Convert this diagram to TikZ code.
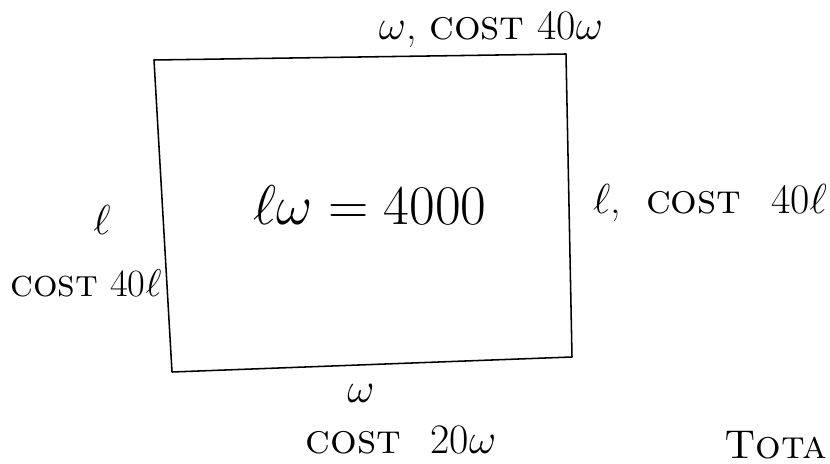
\documentclass[tikz,border=0pt]{standalone}
\usepackage{fontspec}
\tikzset{
    lbl/.style={inner sep=0pt, font=\Huge, scale=1.2},
    area/.style={inner sep=0pt, font=\Huge, scale=1.6},
    pen/.style={line width=1.1pt, line join=round}
}
\begin{document}
\begin{tikzpicture}[x=0.025cm, y=-0.025cm]
    \useasboundingbox (0,0) rectangle (830,464);
    % the field
    \coordinate (tl) at (154,60);
    \coordinate (tr) at (566,54);
    \coordinate (br) at (572,357);
    \coordinate (bl) at (172,372);
    \draw[pen] (tl) -- (tr) -- (br) -- (bl) -- cycle;
    \node[area] (eq) at (370,205) {$\ell\omega = 4000$};
    % sides
    \node[lbl] (top) at (491,30) {$\omega$, \textsc{cost} 40$\omega$};
    \node[lbl] (right) at (710,203) {$\ell$,\hspace{0.3em} \textsc{cost}\hspace{0.4em} 40$\ell$};
    \node[lbl] (left) at (102,220) {$\ell$};
    \node[lbl, scale=0.92] (leftc) at (86,283) {\textsc{cost} 40$\ell$};
    \node[lbl] (bot) at (361,393) {$\omega$};
    \node[lbl] (botc) at (401,440) {\textsc{cost}\hspace{0.4em} 20$\omega$};
    \node[anchor=base west, inner sep=0pt, font=\Huge, scale=1.15] (total) at (724,459) {\textsc{Tota}};
\end{tikzpicture}
\end{document}
